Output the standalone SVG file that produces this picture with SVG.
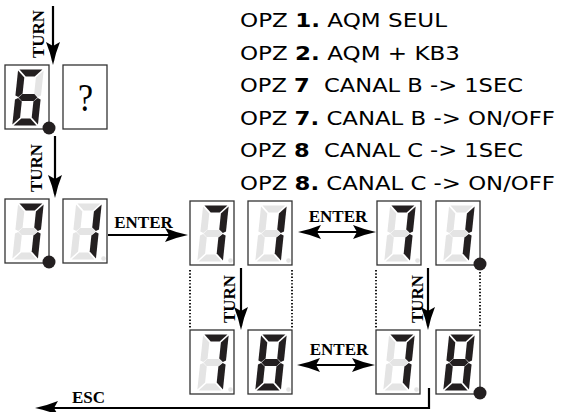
<svg xmlns="http://www.w3.org/2000/svg" xmlns:xlink="http://www.w3.org/1999/xlink" width="561" height="412" viewBox="0 0 561 412">
<style>
.box{fill:#fff;stroke:#333;stroke-width:1.3}
.on{fill:#231f20}
.off{fill:#e4e4e4}
.dpoff{fill:#e4e4e4}
.dpon{fill:#231f20}
.arr{fill:none;stroke:#000;stroke-width:2.2}
.dots{fill:none;stroke:#000;stroke-width:1.8;stroke-dasharray:1.4 1.9}
.lbl{font-family:"Liberation Serif","Times New Roman",serif;font-weight:bold;font-size:17px;fill:#000}
.opt{font-family:"DejaVu Sans","Liberation Sans",sans-serif;font-size:19px;fill:#000;white-space:pre}
.b{font-weight:bold}
</style>
<defs>
<polygon id="sa" points="-11.5,-28 11.5,-28 4.5,-21 -4.5,-21"/>
<polygon id="sb" points="5.8,-20 12.8,-27 12.8,-2 9.8,-0.5 5.8,-4"/>
<polygon id="sc" points="5.8,20 12.8,27 12.8,2 9.8,0.5 5.8,4"/>
<polygon id="sd" points="-11.5,28 11.5,28 4.5,21 -4.5,21"/>
<polygon id="se" points="-5.8,20 -12.8,27 -12.8,2 -9.8,0.5 -5.8,4"/>
<polygon id="sf" points="-5.8,-20 -12.8,-27 -12.8,-2 -9.8,-0.5 -5.8,-4"/>
<polygon id="sg" points="-9.5,0 -6,-3.5 6,-3.5 9.5,0 6,3.5 -6,3.5"/>
<g id="dig6" transform="skewX(-6)">
<use href="#sa" class="on"/><use href="#sb" class="off"/><use href="#sc" class="on"/><use href="#sd" class="on"/><use href="#se" class="on"/><use href="#sf" class="on"/><use href="#sg" class="on"/>
</g>
<g id="dig7" transform="skewX(-6)">
<use href="#sa" class="on"/><use href="#sb" class="on"/><use href="#sc" class="on"/><use href="#sd" class="off"/><use href="#se" class="off"/><use href="#sf" class="off"/><use href="#sg" class="off"/>
</g>
<g id="dig1" transform="skewX(-6)">
<use href="#sa" class="off"/><use href="#sb" class="on"/><use href="#sc" class="on"/><use href="#sd" class="off"/><use href="#se" class="off"/><use href="#sf" class="off"/><use href="#sg" class="off"/>
</g>
<g id="dig8" transform="skewX(-6)">
<use href="#sa" class="on"/><use href="#sb" class="on"/><use href="#sc" class="on"/><use href="#sd" class="on"/><use href="#se" class="on"/><use href="#sf" class="on"/><use href="#sg" class="on"/>
</g>
<marker id="ah" viewBox="-24 -8 26 16" refX="-4" refY="0" markerWidth="26" markerHeight="16" markerUnits="userSpaceOnUse" orient="auto-start-reverse">
<path d="M0,0 Q-12,-2.5 -23,-7 L-19,0 L-23,7 Q-12,2.5 0,0 Z" fill="#000"/>
</marker>
</defs>

<g id="disp-6">
<rect class="box" x="5" y="65" width="44" height="64"/>
<use href="#dig6" transform="translate(28,97.5)"/>
<circle class="dpon" cx="49" cy="128" r="6.5"/>
</g>
<g id="disp-q">
<rect class="box" x="63" y="65" width="44" height="64"/>
<text transform="translate(85.5,111) scale(0.85,1)" text-anchor="middle" style="font-family:'Liberation Serif',serif;font-size:40px;fill:#000">?</text>
</g>

<g id="disp-r2a">
<rect class="box" x="5" y="199" width="44" height="64"/>
<use href="#dig7" transform="translate(28,231.5)"/>
<circle class="dpon" cx="49" cy="262" r="6.5"/>
</g>
<g id="disp-r2b">
<rect class="box" x="63" y="199" width="44" height="64"/>
<use href="#dig1" transform="translate(86,231.5)"/>
<circle class="dpoff" cx="103.5" cy="258.5" r="2.3"/>
</g>

<g id="disp-m1">
<rect class="box" x="190" y="201" width="44" height="64"/>
<use href="#dig7" transform="translate(213,233.5)"/>
<circle class="dpoff" cx="230.5" cy="260.5" r="2.3"/>
</g>
<g id="disp-m2">
<rect class="box" x="248" y="201" width="44" height="64"/>
<use href="#dig1" transform="translate(271,233.5)"/>
<circle class="dpoff" cx="288.5" cy="260.5" r="2.3"/>
</g>
<g id="disp-m3">
<rect class="box" x="377" y="201" width="44" height="64"/>
<use href="#dig7" transform="translate(400,233.5)"/>
<circle class="dpoff" cx="417.5" cy="260.5" r="2.3"/>
</g>
<g id="disp-m4">
<rect class="box" x="436" y="201" width="44" height="64"/>
<use href="#dig1" transform="translate(459,233.5)"/>
<circle class="dpon" cx="480" cy="264" r="6.5"/>
</g>

<g id="disp-l1">
<rect class="box" x="190" y="330" width="44" height="64"/>
<use href="#dig7" transform="translate(213,362.5)"/>
<circle class="dpoff" cx="230.5" cy="389.5" r="2.3"/>
</g>
<g id="disp-l2">
<rect class="box" x="248" y="330" width="44" height="64"/>
<use href="#dig8" transform="translate(271,362.5)"/>
<circle class="dpoff" cx="288.5" cy="389.5" r="2.3"/>
</g>
<g id="disp-l3">
<rect class="box" x="376" y="330" width="44" height="64"/>
<use href="#dig7" transform="translate(399,362.5)"/>
<circle class="dpoff" cx="416.5" cy="389.5" r="2.3"/>
</g>
<g id="disp-l4">
<rect class="box" x="436" y="330" width="44" height="64"/>
<use href="#dig8" transform="translate(459,362.5)"/>
<circle class="dpon" cx="480" cy="393" r="6.5"/>
</g>

<g id="connectors">
<path class="arr" d="M53,6 V61" marker-end="url(#ah)"/>
<path class="arr" d="M55,136 V194" marker-end="url(#ah)"/>
<path class="arr" d="M108,235 H184" marker-end="url(#ah)"/>
<path class="arr" d="M302,232 H372" marker-start="url(#ah)" marker-end="url(#ah)"/>
<path class="arr" d="M301,365 H371" marker-start="url(#ah)" marker-end="url(#ah)"/>
<path class="arr" d="M241,268 V326" marker-end="url(#ah)"/>
<path class="arr" d="M428,268 V326" marker-end="url(#ah)"/>
<path class="arr" d="M429,388 V408 H39" marker-end="url(#ah)"/>
<path class="dots" d="M190,270 V328 M292,270 V328 M376,270 V328 M480,272 V328"/>
</g>

<g id="labels">
<text class="lbl" text-anchor="middle" transform="translate(44,34) rotate(-90)">TURN</text>
<text class="lbl" text-anchor="middle" transform="translate(42,168) rotate(-90)">TURN</text>
<text class="lbl" text-anchor="middle" transform="translate(235,299) rotate(-90)">TURN</text>
<text class="lbl" text-anchor="middle" transform="translate(423,299) rotate(-90)">TURN</text>
<text class="lbl" x="143.5" y="228" text-anchor="middle">ENTER</text>
<text class="lbl" x="338" y="222" text-anchor="middle">ENTER</text>
<text class="lbl" x="339" y="355" text-anchor="middle">ENTER</text>
<text class="lbl" x="72" y="403">ESC</text>
</g>

<g id="options">
<text class="opt" x="240" y="27" textLength="207" lengthAdjust="spacingAndGlyphs">OPZ <tspan class="b">1.</tspan> AQM SEUL</text>
<text class="opt" x="240" y="59.6" textLength="220" lengthAdjust="spacingAndGlyphs">OPZ <tspan class="b">2.</tspan> AQM + KB3</text>
<text class="opt" x="240" y="92.2" textLength="283" lengthAdjust="spacingAndGlyphs">OPZ <tspan class="b">7</tspan>  CANAL B -&gt; 1SEC</text>
<text class="opt" x="240" y="124.8" textLength="315" lengthAdjust="spacingAndGlyphs">OPZ <tspan class="b">7.</tspan> CANAL B -&gt; ON/OFF</text>
<text class="opt" x="240" y="157.4" textLength="283" lengthAdjust="spacingAndGlyphs">OPZ <tspan class="b">8</tspan>  CANAL C -&gt; 1SEC</text>
<text class="opt" x="240" y="190" textLength="315" lengthAdjust="spacingAndGlyphs">OPZ <tspan class="b">8.</tspan> CANAL C -&gt; ON/OFF</text>
</g>
</svg>
